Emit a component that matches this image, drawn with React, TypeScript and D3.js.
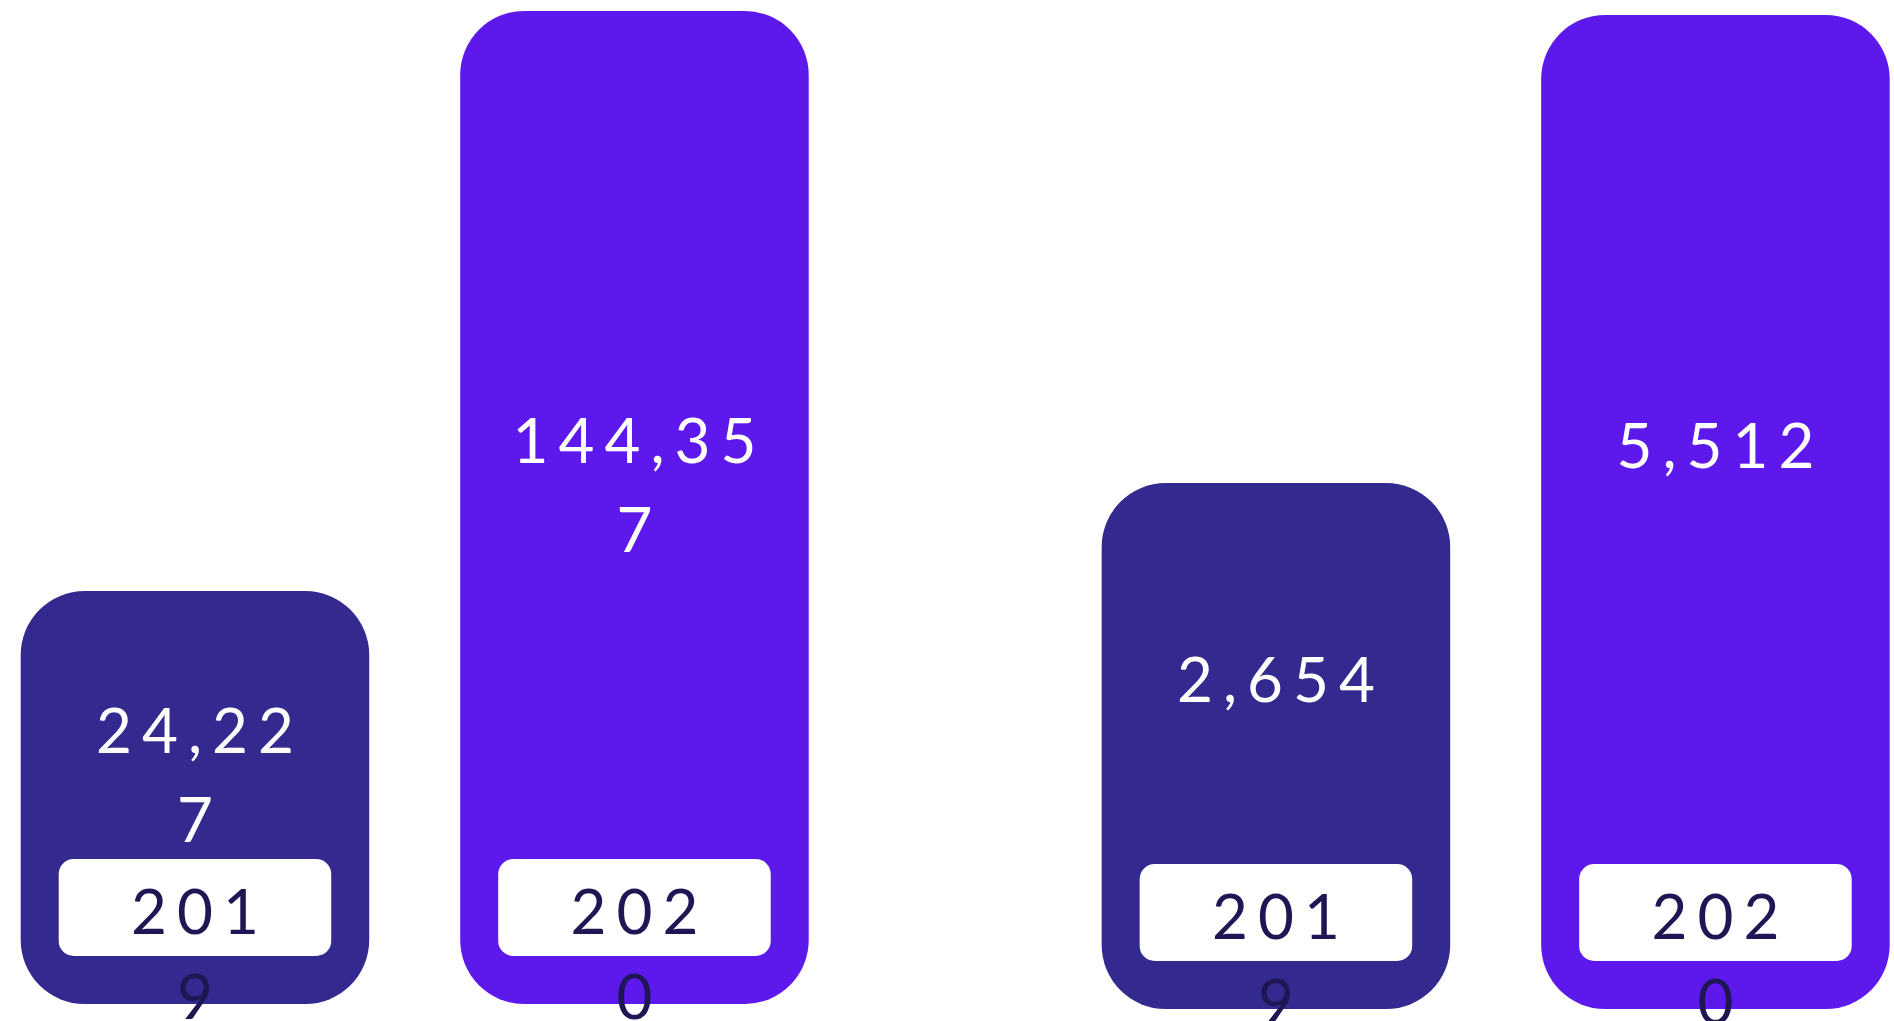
import React from "react";
import * as d3 from "d3";

// ---- data ----
const panels = ["panelA", "panelB"];
const years = ["2019", "2020"];
const panelAValues = [24227, 144357];
const panelBValues = [2654, 5512];
const panelValues = [panelAValues, panelBValues];
// lower end of each panel's value axis (bars do not start at zero)
const panelDomainMin = [-61300, -558];
const yearColors = ["#33298F", "#5D18EB"];

// ---- layout ----
const W = 1894;
const H = 1021;
const panelTop = [11, 15];
const panelBottom = [1004, 1009];
const BAR_R = 64;
const BOX_PAD_X = 38;
const BOX_H = 97;
const BOX_OFFSET = 145; // box top above bar bottom
const BOX_R = 15;
const FONT = "Lato, 'Open Sans', sans-serif";
const FONT_SIZE = 62;
const LETTER_SP = 10;

// approximate advance widths of the original hand-drawn font, used for wrapping
const approxWidth = (s: string) =>
  Array.from(s).reduce((acc, c) => acc + (c === "1" ? 30 : c === "," ? 22 : 44), 0);

function wrap(s: string, maxW: number): string[] {
  const lines: string[] = [];
  let cur = "";
  for (const c of Array.from(s)) {
    if (cur && approxWidth(cur + c) > maxW) {
      lines.push(cur);
      cur = c;
    } else cur += c;
  }
  if (cur) lines.push(cur);
  return lines;
}

const fmt = d3.format(",");

export default function App() {
  const xOuter = d3
    .scaleBand<string>()
    .domain(panels)
    .range([20.7, 1889.7])
    .paddingInner(0.271)
    .paddingOuter(0);
  const xInner = d3
    .scaleBand<string>()
    .domain(years)
    .range([0, xOuter.bandwidth()])
    .paddingInner(0.207)
    .paddingOuter(0);

  return (
    <svg
      width={W}
      height={H}
      style={{ position: "absolute", left: 0, top: 0, background: "#ffffff" }}
    >
      {panels.map((p, pi) => {
        const y = d3
          .scaleLinear()
          .domain([panelDomainMin[pi], d3.max(panelValues[pi]) as number])
          .range([panelBottom[pi], panelTop[pi]]);
        const bottom = y(panelDomainMin[pi]);
        return (
          <g key={p} transform={`translate(${xOuter(p)},0)`}>
            {years.map((yr, i) => {
              const v = panelValues[pi][i];
              const x0 = xInner(yr) as number;
              const bw = xInner.bandwidth();
              const top = y(v);
              const boxTop = bottom - BOX_OFFSET;
              const cx = x0 + bw / 2 + LETTER_SP / 2;
              const valueLines = wrap(fmt(v), 235);
              const yearLines = wrap(yr, 150);
              const valueY = (top + boxTop) / 2 + 4;
              const yearY = boxTop + BOX_H / 2 + 2;
              return (
                <g key={yr}>
                  <rect
                    x={x0}
                    y={top}
                    width={bw}
                    height={bottom - top}
                    rx={BAR_R}
                    ry={BAR_R}
                    fill={yearColors[i]}
                  />
                  <rect
                    x={x0 + BOX_PAD_X}
                    y={boxTop}
                    width={bw - 2 * BOX_PAD_X}
                    height={BOX_H}
                    rx={BOX_R}
                    ry={BOX_R}
                    fill="#ffffff"
                  />
                  <text
                    x={cx}
                    y={valueY}
                    fill="#ffffff"
                    fontFamily={FONT}
                    fontSize={FONT_SIZE}
                    textAnchor="middle"
                    dominantBaseline="central"
                    letterSpacing={LETTER_SP}
                  >
                    {valueLines.map((l, k) => (
                      <tspan key={k} x={cx} dy={k === 0 ? 0 : 89}>
                        {l}
                      </tspan>
                    ))}
                  </text>
                  <text
                    x={cx}
                    y={yearY}
                    fill="#1E1754"
                    fontFamily={FONT}
                    fontSize={FONT_SIZE}
                    textAnchor="middle"
                    dominantBaseline="central"
                    letterSpacing={LETTER_SP}
                  >
                    {yearLines.map((l, k) => (
                      <tspan key={k} x={cx} dy={k === 0 ? 0 : 85}>
                        {l}
                      </tspan>
                    ))}
                  </text>
                </g>
              );
            })}
          </g>
        );
      })}
    </svg>
  );
}
